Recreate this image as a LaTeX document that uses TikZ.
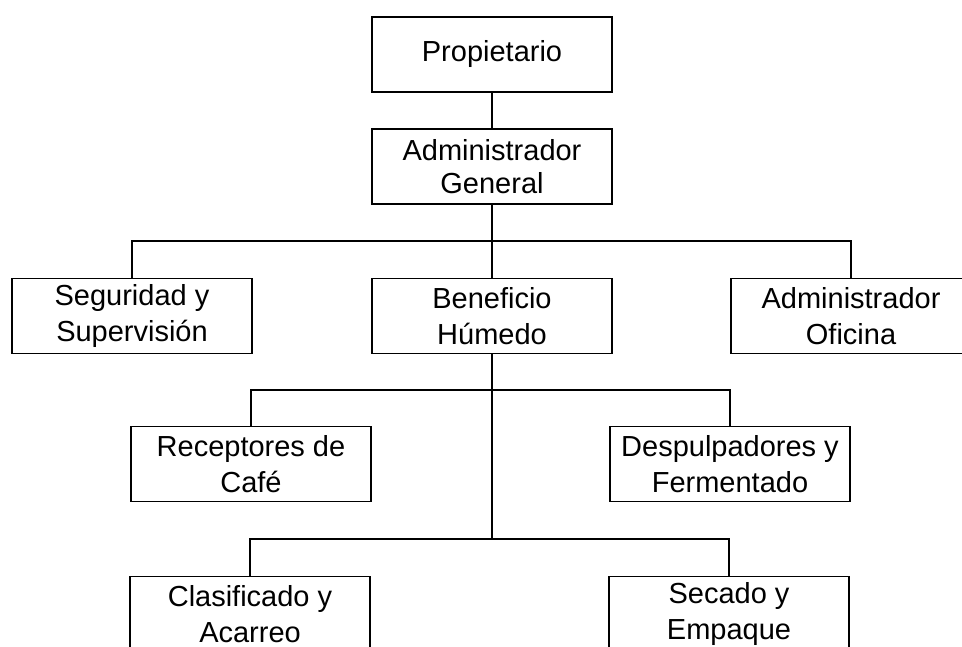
\documentclass[tikz,border=0pt]{standalone}
\usepackage{fontspec}
\setmainfont{Liberation Sans}
\usetikzlibrary{positioning}

\begin{document}
\begin{tikzpicture}[
    x=0.02cm, y=-0.02cm,
    unit/.style={draw, line width=1.1pt, align=center, minimum width=4.8cm, minimum height=1.5cm, inner sep=0pt, font=\fontsize{16.5}{20.5}\selectfont},
    link/.style={line width=0.9pt}
]
\useasboundingbox (0,0) rectangle (962,646);
\clip (0,0) rectangle (962,646);
\node[unit] (prop) at (492,54.5) {Propietario};
\node[unit, font=\fontsize{16.5}{18.5}\selectfont] (admgen) at (492,166.5) {Administrador\\General};
\node[unit] (seg) at (132,316) {Seguridad y\\Supervisión};
\node[unit] (benef) at (492,316) {Beneficio\\Húmedo};
\node[unit] (admof) at (851,316) {Administrador\\Oficina};
\node[unit] (recep) at (251,464) {Receptores de\\Café};
\node[unit] (desp) at (730,464) {Despulpadores y\\Fermentado};
\node[unit] (clas) at (250,614) {Clasificado y\\Acarreo};
\node[unit] (sec) at (729,614) {Secado y\\Empaque};
\coordinate (bus1) at (492,241);
\coordinate (bus2) at (492,390);
\coordinate (bus3) at (492,539);
\draw[link] (prop) -- (admgen);
\draw[link] (admgen) -- (bus1);
\draw[link] (bus1) -- (benef);
\draw[link] (seg) |- (bus1) -| (admof);
\draw[link] (benef) -- (bus3);
\draw[link] (recep) |- (bus2) -| (desp);
\draw[link] (clas) |- (bus3) -| (sec);
\end{tikzpicture}
\end{document}
